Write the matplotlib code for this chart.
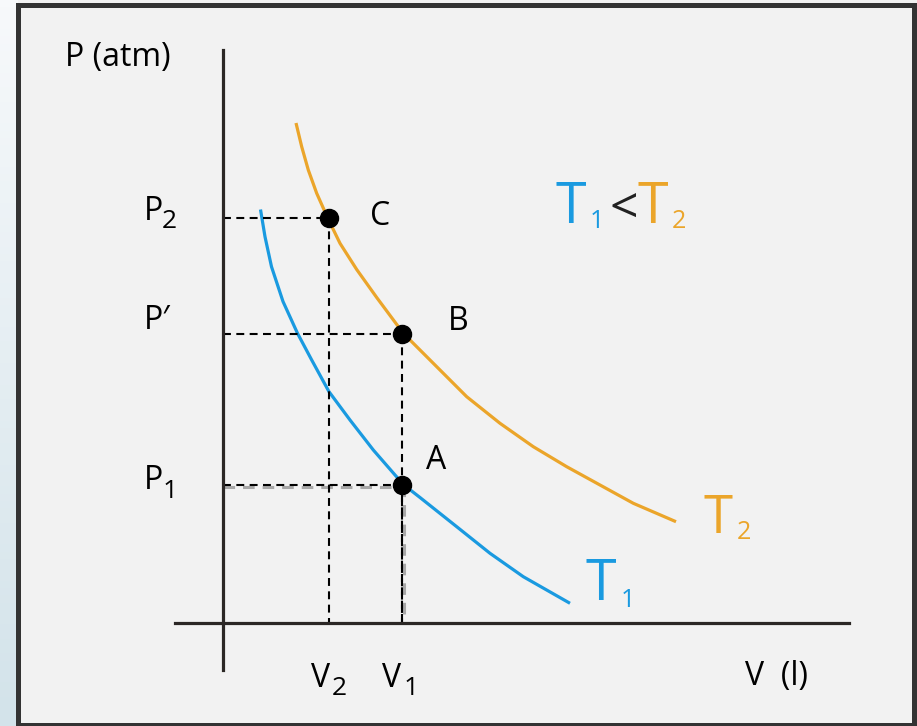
import numpy as np
import matplotlib.pyplot as plt
from matplotlib.patches import Rectangle
from matplotlib.colors import LinearSegmentedColormap

plt.rcParams['font.family'] = ['Open Sans', 'DejaVu Sans']

# isotermas (V y P en unidades arbitrarias)
v_t2 = [0.73, 0.787, 0.853, 0.937, 1.053, 1.17, 1.337, 1.537, 1.803,
        2.103, 2.437, 2.77, 3.103, 3.437, 3.77, 4.103, 4.53]
p_t2 = [5.00, 4.763, 4.53, 4.297, 4.037, 3.797, 3.535, 3.255, 2.897,
        2.597, 2.263, 1.997, 1.763, 1.563, 1.38, 1.197, 1.013]
v_t1 = [0.375, 0.42, 0.485, 0.60, 0.745, 0.887, 1.06, 1.27, 1.503,
        1.803, 1.97, 2.337, 2.67, 3.003, 3.47]
p_t1 = [4.135, 3.863, 3.563, 3.215, 2.897, 2.63, 2.313, 2.03, 1.73,
        1.385, 1.255, 0.963, 0.697, 0.463, 0.197]

# estados A, B, C
state_names = ['A', 'B', 'C']
state_v = [1.79, 1.79, 1.06]
state_p = [1.38, 2.89, 4.05]

ORANGE = '#eba52a'
BLUE = '#1a9ae0'
AXIS = '#2b2725'

fig = plt.figure(figsize=(9.17, 7.26), dpi=100)
fig.patch.set_facecolor('#f2f2f2')

# franja azulada a la izquierda
gax = fig.add_axes([0, 0, 18 / 917, 1])
cmap = LinearSegmentedColormap.from_list('strip', ['#f7f9fb', '#d3e3ea'])
gax.imshow(np.linspace(0, 1, 100).reshape(-1, 1), cmap=cmap, aspect='auto',
           extent=[0, 1, 0, 1], origin='upper')
gax.axis('off')

# marco
fig.patches.append(Rectangle((18 / 917, 1 - 724.5 / 726), 895.5 / 917, 720 / 726,
                             transform=fig.transFigure, fill=False,
                             ec='#333333', lw=3.6))

ax = fig.add_axes([0, 0, 1, 1])
ax.patch.set_visible(False)
ax.set_xlim(-2.23, 6.94)
ax.set_ylim(-1.03, 6.23)
for s in ['top', 'right']:
    ax.spines[s].set_visible(False)
ax.spines['left'].set_position(('data', 0))
ax.spines['bottom'].set_position(('data', 0))
ax.spines['left'].set_bounds(-0.47, 5.73)
ax.spines['bottom'].set_bounds(-0.48, 6.26)
for s in ['left', 'bottom']:
    ax.spines[s].set_color(AXIS)
    ax.spines[s].set_linewidth(2.3)
ax.set_xticks([])
ax.set_yticks([])

ax.plot(v_t2, p_t2, color=ORANGE, lw=2.3, solid_capstyle='butt',
        solid_joinstyle='round')
ax.plot(v_t1, p_t1, color=BLUE, lw=2.3, solid_capstyle='butt',
        solid_joinstyle='round')

# lineas punteadas hacia los ejes
dash = (0, (3.8, 2.6))
a_v, a_p = state_v[0], state_p[0]
ax.plot([0, a_v], [a_p - 0.015, a_p - 0.015], color='#a8a8a8', lw=2.2, ls=dash)
ax.plot([a_v + 0.015, a_v + 0.015], [a_p, 0], color='#a8a8a8', lw=2.2, ls=dash)
for v, p in zip(state_v, state_p):
    ax.plot([0, v], [p, p], color='black', lw=1.5, ls=dash)
    ax.plot([v, v], [p, 0], color='black', lw=1.5, ls=dash)

ax.plot(state_v, state_p, 'o', color='black', ms=13, zorder=5)

label_pos = {'A': (2.13, 1.63), 'B': (2.35, 3.02), 'C': (1.57, 4.07)}
for name in state_names:
    x, y = label_pos[name]
    ax.text(x, y, name, fontsize=23, ha='center', va='center')

# rotulos de los ejes
ax.text(-1.58, 5.66, 'P (atm)', fontsize=23, ha='left', va='center')
ax.text(5.22, -0.62, 'V  (l)', fontsize=23, ha='left', va='baseline')

ax.text(-0.79, 4.03, 'P', fontsize=23, ha='left', va='baseline')
ax.text(-0.61, 3.95, '2', fontsize=19, ha='left', va='baseline')
ax.text(-0.79, 2.94, 'P′', fontsize=23, ha='left', va='baseline')
ax.text(-0.79, 1.34, 'P', fontsize=23, ha='left', va='baseline')
ax.text(-0.60, 1.25, '1', fontsize=19, ha='left', va='baseline')

ax.text(0.88, -0.64, 'V', fontsize=23, ha='left', va='baseline')
ax.text(1.09, -0.72, '2', fontsize=19, ha='left', va='baseline')
ax.text(1.59, -0.64, 'V', fontsize=23, ha='left', va='baseline')
ax.text(1.81, -0.72, '1', fontsize=19, ha='left', va='baseline')

# T1 < T2
ax.text(3.32, 4.00, 'T', fontsize=40, color=BLUE, ha='left', va='baseline')
ax.text(3.67, 3.95, '1', fontsize=18, color=BLUE, ha='left', va='baseline')
ax.text(3.86, 4.00, '<', fontsize=36, color='#222222', ha='left', va='baseline')
ax.text(4.15, 4.00, 'T', fontsize=40, color=ORANGE, ha='left', va='baseline')
ax.text(4.49, 3.95, '2', fontsize=18, color=ORANGE, ha='left', va='baseline')

ax.text(4.80, 0.90, 'T', fontsize=38, color=ORANGE, ha='left', va='baseline')
ax.text(5.14, 0.84, '2', fontsize=18, color=ORANGE, ha='left', va='baseline')
ax.text(3.62, 0.23, 'T', fontsize=40, color=BLUE, ha='left', va='baseline')
ax.text(3.98, 0.16, '1', fontsize=18, color=BLUE, ha='left', va='baseline')

fig.savefig('out.png', dpi=100, facecolor=fig.get_facecolor())
